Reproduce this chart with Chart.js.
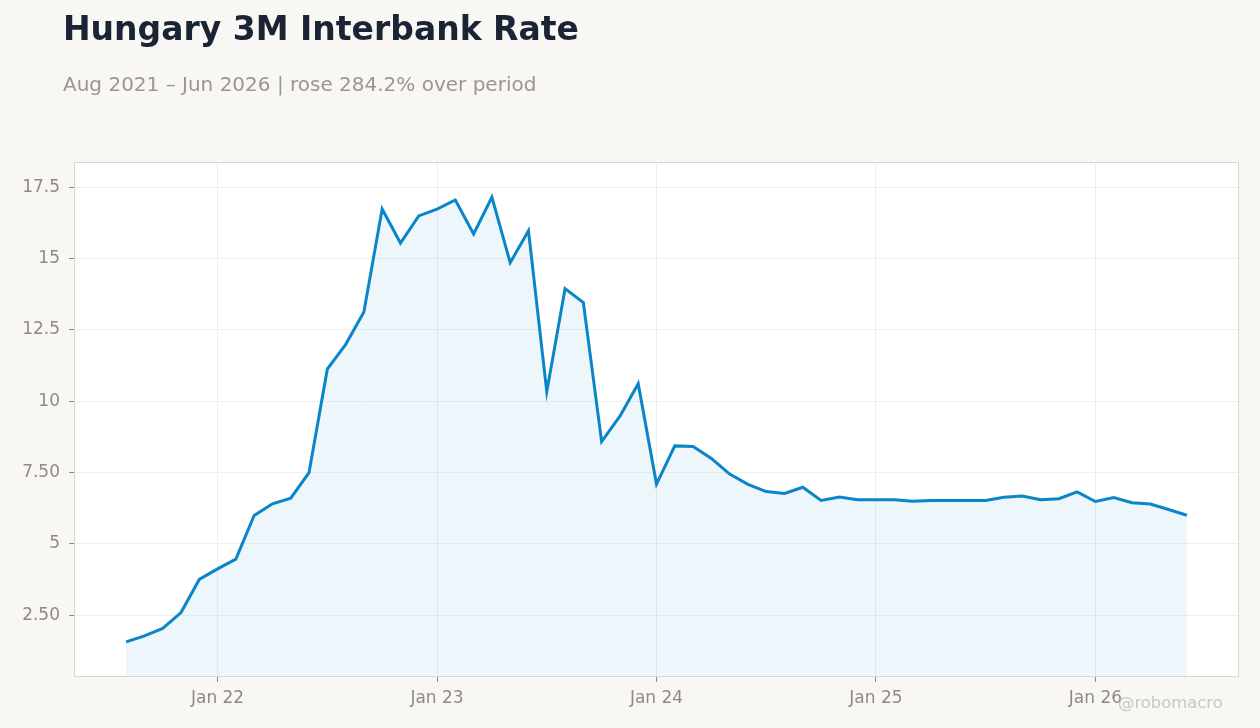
<!DOCTYPE html>
<html>
<head>
<meta charset="utf-8">
<script src="https://cdn.jsdelivr.net/npm/chart.js@4"></script>
<style>
  html, body { margin: 0; padding: 0; background: #f8f7f4; }
  body { width: 1260px; height: 728px; position: relative; overflow: hidden; font-family: "DejaVu Sans", sans-serif; }
  #title { position: absolute; left: 63px; top: 9px; font-size: 33px; font-weight: bold; color: #1b2434; white-space: nowrap; }
  #subtitle { position: absolute; left: 63px; top: 72px; font-size: 20px; color: #9b968f; white-space: nowrap; }
  #credit { position: absolute; left: 1118px; top: 693px; font-size: 16.4px; color: #cac6c0; white-space: nowrap; }
  #wrap { position: absolute; left: 0; top: 0; width: 1260px; height: 728px; }
</style>
</head>
<body>
<div id="wrap"><canvas id="chart"></canvas></div>
<div id="title">Hungary 3M Interbank Rate</div>
<div id="subtitle">Aug 2021 – Jun 2026 | rose 284.2% over period</div>
<div id="credit">@robomacro</div>
<script>
// monthly observations, Aug 2021 .. Jun 2026
let months = [
    'Aug 21', 'Sep 21', 'Oct 21', 'Nov 21', 'Dec 21',
    'Jan 22', 'Feb 22', 'Mar 22', 'Apr 22', 'May 22', 'Jun 22', 'Jul 22', 'Aug 22', 'Sep 22', 'Oct 22', 'Nov 22', 'Dec 22',
    'Jan 23', 'Feb 23', 'Mar 23', 'Apr 23', 'May 23', 'Jun 23', 'Jul 23', 'Aug 23', 'Sep 23', 'Oct 23', 'Nov 23', 'Dec 23',
    'Jan 24', 'Feb 24', 'Mar 24', 'Apr 24', 'May 24', 'Jun 24', 'Jul 24', 'Aug 24', 'Sep 24', 'Oct 24', 'Nov 24', 'Dec 24',
    'Jan 25', 'Feb 25', 'Mar 25', 'Apr 25', 'May 25', 'Jun 25', 'Jul 25', 'Aug 25', 'Sep 25', 'Oct 25', 'Nov 25', 'Dec 25',
    'Jan 26', 'Feb 26', 'Mar 26', 'Apr 26', 'May 26', 'Jun 26'
]
let rates = [
    1.56, 1.77, 2.03, 2.59, 3.75,
    4.12, 4.46, 5.99, 6.40, 6.60, 7.49, 11.12, 11.98, 13.12, 16.73, 15.54, 16.49,
    16.73, 17.05, 15.86, 17.15, 14.85, 15.97, 10.33, 13.94, 13.45, 8.58, 9.47, 10.61,
    7.09, 8.43, 8.41, 7.99, 7.44, 7.08, 6.83, 6.76, 6.98, 6.52, 6.64, 6.54,
    6.54, 6.54, 6.49, 6.52, 6.52, 6.52, 6.52, 6.63, 6.67, 6.54, 6.58, 6.82,
    6.48, 6.62, 6.44, 6.39, 6.20, 6.00
]
let xTickMonths = ['Jan 22', 'Jan 23', 'Jan 24', 'Jan 25', 'Jan 26']
let yTickValues = [2.5, 5, 7.5, 10, 12.5, 15, 17.5]
let yTickLabels = ['2.50', '5', '7.50', '10', '12.5', '15', '17.5']

const tickFont = { family: 'DejaVu Sans', size: 17 }
const tickColor = '#8f8a84'

// thin frame around the plot area
const frame = {
    id: 'frame',
    afterDraw(chart) {
        const a = chart.chartArea
        const c = chart.ctx
        c.save()
        c.strokeStyle = '#ddd8cf'
        c.lineWidth = 1
        c.strokeRect(a.left + 0.5, a.top + 0.5, a.right - a.left - 1, a.bottom - a.top - 1)
        c.restore()
    }
}
// white plot background
const plotBg = {
    id: 'plotBg',
    beforeDraw(chart) {
        const a = chart.chartArea
        chart.ctx.save()
        chart.ctx.fillStyle = '#ffffff'
        chart.ctx.fillRect(a.left, a.top, a.right - a.left, a.bottom - a.top)
        chart.ctx.restore()
    }
}

let ctx = document.getElementById('chart').getContext('2d')
let chart = new Chart(ctx, {
    type: 'line',
    data: {
        labels: months,
        datasets: [{
            label: 'Hungary 3M Interbank Rate',
            data: rates.map((v, i) => ({ x: i, y: v })),
            borderColor: '#0a86c8',
            backgroundColor: 'rgba(10,134,200,0.08)',
            borderWidth: 3,
            pointRadius: 0,
            tension: 0,
            fill: 'start'
        }]
    },
    options: {
        responsive: true,
        maintainAspectRatio: false,
        animation: false,
        layout: {
            padding: { left: 0, right: 21, top: 162, bottom: 0 }
        },
        plugins: {
            legend: { display: false },
            title: { display: false },
            tooltip: { enabled: false }
        },
        scales: {
            x: {
                type: 'linear',
                min: -2.85,
                max: 60.85,
                afterBuildTicks: (scale) => {
                    scale.ticks = xTickMonths.map(m => ({ value: months.indexOf(m) }))
                },
                afterFit: (scale) => { scale.height = 51 },
                ticks: {
                    autoSkip: false,
                    maxRotation: 0,
                    padding: 6,
                    color: tickColor,
                    font: tickFont,
                    callback: (value) => months[value]
                },
                grid: {
                    color: '#eeeeee',
                    tickColor: '#8f8a84',
                    tickLength: 5,
                    drawTicks: true
                },
                border: { display: false }
            },
            y: {
                min: 0.33,
                max: 18.38,
                afterBuildTicks: (scale) => {
                    scale.ticks = yTickValues.map(v => ({ value: v }))
                },
                afterFit: (scale) => { scale.width = 74 },
                ticks: {
                    padding: 9,
                    color: tickColor,
                    font: tickFont,
                    callback: (value) => yTickLabels[yTickValues.indexOf(value)]
                },
                grid: {
                    color: '#f0efed',
                    tickColor: '#8f8a84',
                    tickLength: 5
                },
                border: { display: false }
            }
        }
    },
    plugins: [plotBg, frame]
})
</script>
</body>
</html>
